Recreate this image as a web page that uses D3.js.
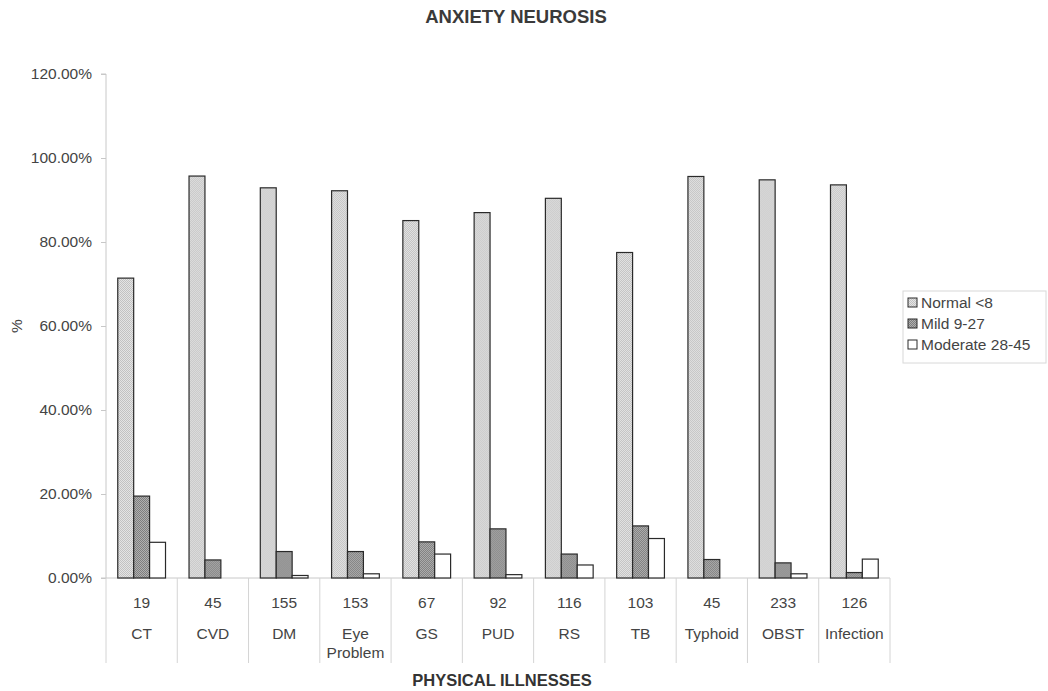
<!DOCTYPE html>
<html>
<head>
<meta charset="utf-8">
<script src="https://cdn.jsdelivr.net/npm/d3@7/dist/d3.min.js"></script>
<style>
  html, body { margin: 0; padding: 0; background: #fff; }
  svg { display: block; font-family: "Liberation Sans", Arial, sans-serif; }
</style>
</head>
<body>
<svg id="chart" width="1048" height="691"></svg>
<script>
// Physical illness groups, patient counts, and anxiety score bands
const illnesses = ["CT", "CVD", "DM", "Eye Problem", "GS", "PUD", "RS", "TB", "Typhoid", "OBST", "Infection"];
const patientCounts = [19, 45, 155, 153, 67, 92, 116, 103, 45, 233, 126];
const seriesNames = ["Normal <8", "Mild 9-27", "Moderate 28-45"];

// Percentage of patients in each band (0–1)
const normalPct   = [0.714, 0.957, 0.929, 0.922, 0.851, 0.870, 0.904, 0.775, 0.956, 0.948, 0.936];
const mildPct     = [0.195, 0.043, 0.063, 0.063, 0.086, 0.117, 0.057, 0.124, 0.044, 0.036, 0.013];
const moderatePct = [0.085, 0.000, 0.006, 0.010, 0.057, 0.008, 0.031, 0.094, 0.000, 0.010, 0.045];

const yTicks = [0, 0.2, 0.4, 0.6, 0.8, 1.0, 1.2];

const svg = d3.select("#chart");
const margin = { left: 106, right: 158, top: 74, bottom: 113 };
const W = 1048, H = 691;
const plotW = W - margin.left - margin.right;
const plotH = H - margin.top - margin.bottom;
const textColor = "#444";
const labelSize = "15.5px";

// Textured fills
const defs = svg.append("defs");
function dotPattern(id, base, dot) {
  const p = defs.append("pattern").attr("id", id)
    .attr("width", 2).attr("height", 2).attr("patternUnits", "userSpaceOnUse");
  p.append("rect").attr("width", 2).attr("height", 2).attr("fill", base);
  p.append("rect").attr("width", 1).attr("height", 1).attr("fill", dot);
  p.append("rect").attr("x", 1).attr("y", 1).attr("width", 1).attr("height", 1).attr("fill", dot);
}
dotPattern("pNormal", "#e4e4e4", "#c2c2c2");
dotPattern("pMild", "#b0b0b0", "#7e7e7e");
const fills = ["url(#pNormal)", "url(#pMild)", "#ffffff"];

const g = svg.append("g").attr("transform", `translate(${margin.left},${margin.top})`);

const x0 = d3.scaleBand().domain(illnesses).range([0, plotW]).padding(0);
const bw = x0.bandwidth();
const x1 = d3.scaleBand().domain(d3.range(3)).range([bw * 0.165, bw * 0.835]).padding(0);
const y = d3.scaleLinear().domain([0, 1.2]).range([plotH, 0]);

// Y axis
const yAxis = d3.axisLeft(y).tickValues(yTicks).tickSize(5).tickPadding(9)
  .tickFormat(d => (d * 100).toFixed(2) + "%");
const ya = g.append("g").call(yAxis);
ya.select(".domain").attr("stroke", "#c8c8c8").attr("d", `M-5,0H0V${plotH}H-5`);
ya.selectAll(".tick line").attr("stroke", "#c8c8c8");
ya.selectAll(".tick text").attr("fill", textColor).style("font-size", labelSize)
  .style("font-family", "'Liberation Sans', Arial, sans-serif");

// Baseline and category table lines below the axis
g.append("line").attr("x1", 0).attr("x2", plotW).attr("y1", plotH).attr("y2", plotH)
  .attr("stroke", "#c8c8c8");
const seps = d3.range(illnesses.length + 1).map(i => i === illnesses.length ? plotW : x0(illnesses[i]));
g.selectAll(".sep").data(seps).join("line").attr("class", "sep")
  .attr("x1", d => d).attr("x2", d => d).attr("y1", plotH).attr("y2", plotH + 85)
  .attr("stroke", "#d4d4d4");

// Bars
const rows = illnesses.map((name, i) => ({ name, vals: [normalPct[i], mildPct[i], moderatePct[i]] }));
const groups = g.selectAll(".grp").data(rows).join("g").attr("class", "grp")
  .attr("transform", d => `translate(${x0(d.name)},0)`);
groups.selectAll("rect").data(d => d.vals.map((v, k) => ({ v, k }))).join("rect")
  .attr("x", d => x1(d.k)).attr("width", x1.bandwidth())
  .attr("y", d => y(d.v)).attr("height", d => plotH - y(d.v))
  .attr("fill", d => fills[d.k])
  .attr("stroke", d => d.v > 0 ? "#2a2a2a" : "none").attr("stroke-width", 1.2);

// Table text: counts and illness names
g.selectAll(".cnt").data(patientCounts).join("text").attr("class", "cnt")
  .attr("x", (d, i) => x0(illnesses[i]) + bw / 2).attr("y", plotH + 30)
  .attr("text-anchor", "middle").attr("fill", textColor).style("font-size", labelSize)
  .text(d => d);
g.selectAll(".nm").data(illnesses).join("text").attr("class", "nm")
  .attr("x", d => x0(d) + bw / 2).attr("y", plotH + 61)
  .attr("text-anchor", "middle").attr("fill", textColor).style("font-size", labelSize)
  .each(function (d) {
    const words = d.split(" ");
    d3.select(this).selectAll("tspan").data(words).join("tspan")
      .attr("x", x0(d) + bw / 2).attr("dy", (w, j) => j === 0 ? 0 : 19).text(w => w);
  });

// Titles
svg.append("text").attr("x", 516).attr("y", 23).attr("text-anchor", "middle")
  .attr("fill", "#3a3a3a").style("font-size", "18.5px").style("font-weight", "bold")
  .text("ANXIETY NEUROSIS");
svg.append("text").attr("x", 502).attr("y", 686).attr("text-anchor", "middle")
  .attr("fill", "#333").style("font-size", "16.5px").style("font-weight", "bold")
  .text("PHYSICAL ILLNESSES");
svg.append("text").attr("transform", "translate(22,326) rotate(-90)")
  .attr("text-anchor", "middle").attr("fill", textColor).style("font-size", labelSize)
  .text("%");

// Legend
const lg = svg.append("g").attr("transform", "translate(903,291)");
lg.append("rect").attr("width", 143).attr("height", 72).attr("fill", "#fff")
  .attr("stroke", "#d8d8d8");
const items = lg.selectAll(".li").data(seriesNames).join("g").attr("class", "li")
  .attr("transform", (d, i) => `translate(5,${7 + i * 21})`);
items.append("rect").attr("width", 9).attr("height", 9)
  .attr("fill", (d, i) => fills[i]).attr("stroke", "#2a2a2a");
items.append("text").attr("x", 13).attr("y", 10).attr("fill", textColor)
  .style("font-size", labelSize).text(d => d);
</script>
</body>
</html>
